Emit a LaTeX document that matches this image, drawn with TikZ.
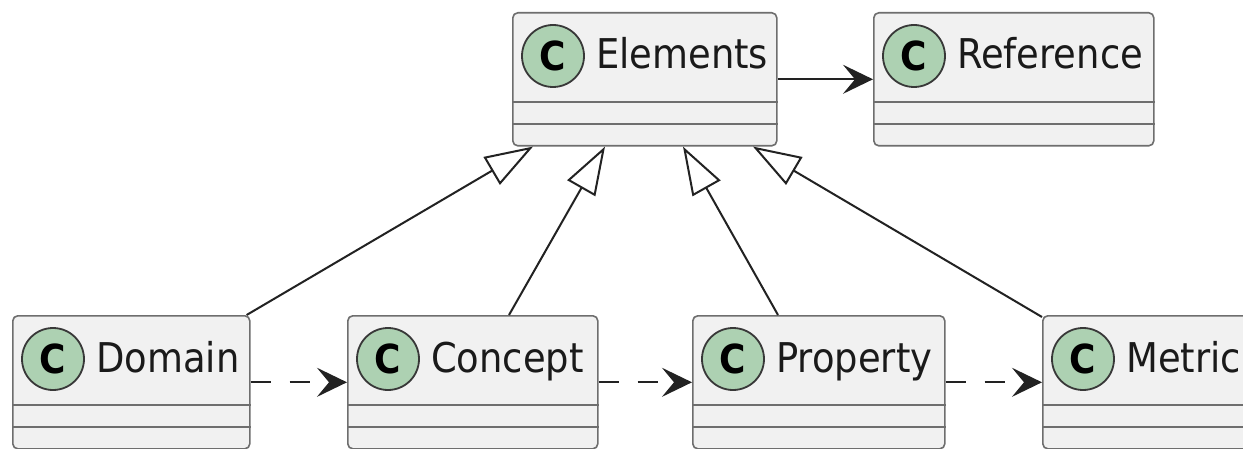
\documentclass[tikz,border=0pt]{standalone}
\usepackage{fontspec}
\setmainfont{DejaVu Sans}[FakeStretch=0.9]
\usetikzlibrary{arrows.meta}

\definecolor{boxfill}{HTML}{F1F1F1}
\definecolor{boxline}{HTML}{6E6E6E}
\definecolor{edgeline}{HTML}{222222}
\definecolor{spotfill}{HTML}{ADD1B2}
\definecolor{spotline}{HTML}{383838}
\definecolor{inktext}{HTML}{1A1A1A}

\tikzset{
  classbox/.style={draw=boxline, fill=boxfill, line width=1.6pt,
    rounded corners=5pt, anchor=north west, inner sep=0pt,
    minimum height=133pt},
  sepline/.style={draw=boxline, line width=1.6pt},
  spot/.style={circle, draw=spotline, fill=spotfill, line width=1.8pt,
    minimum size=62pt, inner sep=0pt, text=black,
    font=\fontsize{40}{40}\selectfont\bfseries},
  classname/.style={anchor=base west, inner sep=0pt, text=inktext,
    font=\fontsize{41}{41}\selectfont},
  assoc/.style={draw=edgeline, line width=2pt,
    -{Stealth[length=30pt, width=29pt, inset=12pt]}},
  depend/.style={assoc, dash pattern=on 20pt off 19pt},
  extends/.style={draw=edgeline, line width=2pt,
    -{Triangle[length=48pt, width=32pt, fill=white, line width=2pt]}},
}

% one class box: name, left, top, right, title
\newcommand\umlclass[5]{%
  \node[classbox, minimum width={(#4-#2)*1pt}] (#1) at (#2,#3) {};
  \draw[sepline] ([yshift=-90pt]#1.north west) -- ([yshift=-90pt]#1.north east);
  \draw[sepline] ([yshift=-112pt]#1.north west) -- ([yshift=-112pt]#1.north east);
  \node[spot] (#1-spot) at ([xshift=41pt, yshift=-44pt]#1.north west) {C};
  \node[classname] (#1-name) at ([xshift=84pt, yshift=-57pt]#1.north west) {#5};
}

\begin{document}
\begin{tikzpicture}[x=1pt, y=-1pt]
  \clip (0,0) rectangle (1243,449);
  \fill[white] (0,0) rectangle (1243,449);

  \umlclass{elements}{512}{12}{776}{Elements}
  \umlclass{reference}{873}{12}{1153}{Reference}
  \umlclass{domain}{12}{315}{249}{Domain}
  \umlclass{concept}{347}{315}{597}{Concept}
  \umlclass{property}{692}{315}{944}{Property}
  \umlclass{metric}{1042}{315}{1300}{Metric}

  % association
  \draw[assoc] (elements.east) -- (elements.east -| reference.west);

  % dependencies
  \draw[depend] (domain.east) -- (concept.west);
  \draw[depend] (concept.east) -- (property.west);
  \draw[depend] (property.east) -- (metric.west);

  % generalisations
  \draw[extends] ([xshift=-4pt]domain.north east) -- ([xshift=21pt]elements.south west);
  \draw[extends] ([xshift=162pt]concept.north west) -- ([xshift=93pt]elements.south west);
  \draw[extends] ([xshift=86pt]property.north west) -- ([xshift=171pt]elements.south west);
  \draw[extends] ([yshift=-2pt]metric.north west) -- ([xshift=241pt]elements.south west);
\end{tikzpicture}
\end{document}
